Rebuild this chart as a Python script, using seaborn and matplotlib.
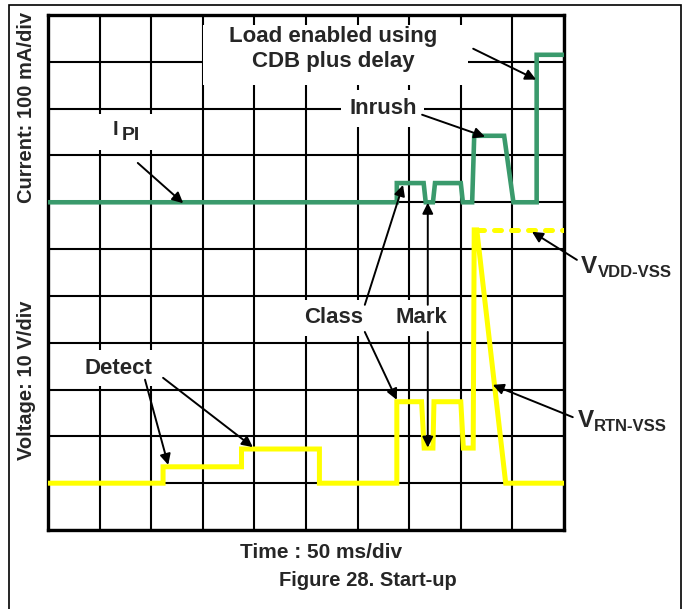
import numpy as np
import pandas as pd
import matplotlib.pyplot as plt
import matplotlib.transforms as mtransforms
from matplotlib.patches import Rectangle
import seaborn as sns

# scope trace, x in divisions (50 ms/div), y in screen divisions
ipi_x = [0, 6.76, 6.76, 7.28, 7.32, 7.46, 7.50, 8.00, 8.04, 8.22, 8.26, 8.84, 9.02, 9.47, 9.47, 10.0]
ipi_y = [7.0, 7.0, 7.41, 7.41, 7.0, 7.0, 7.41, 7.41, 7.0, 7.0, 8.42, 8.42, 7.0, 7.0, 10.15, 10.15]

rtn_x = [0, 2.23, 2.23, 3.75, 3.75, 5.26, 5.26, 6.76, 6.76, 7.24, 7.29, 7.46, 7.48, 8.00, 8.05, 8.24, 8.26, 8.31, 8.87, 10.0]
rtn_y = [1.0, 1.0, 1.35, 1.35, 1.73, 1.73, 1.0, 1.0, 2.74, 2.74, 1.75, 1.75, 2.74, 2.74, 1.75, 1.75, 6.41, 6.41, 1.0, 1.0]

vdd_x = [8.31, 10.0]
vdd_y = [6.41, 6.41]

GREEN = '#3a9a6c'
YELLOW = '#ffff00'

sns.set_style('white')
plt.rcParams['font.family'] = ['Liberation Sans', 'DejaVu Sans']
plt.rcParams['font.weight'] = 'bold'

fig = plt.figure(figsize=(6.83, 6.09), dpi=100)
ax = fig.add_axes([48/683, 1-530/609, 516/683, 515/609])

ipi = pd.DataFrame({'t': ipi_x, 'v': ipi_y})
rtn = pd.DataFrame({'t': rtn_x, 'v': rtn_y})
vdd = pd.DataFrame({'t': vdd_x, 'v': vdd_y})

sns.lineplot(data=ipi, x='t', y='v', sort=False, estimator=None, color=GREEN, lw=3.3,
             solid_joinstyle='miter', ax=ax, zorder=3)
sns.lineplot(data=rtn, x='t', y='v', sort=False, estimator=None, color=YELLOW, lw=3.6,
             solid_joinstyle='miter', ax=ax, zorder=3)
sns.lineplot(data=vdd, x='t', y='v', sort=False, estimator=None, color=YELLOW, lw=3.6,
             ax=ax, zorder=3)
vline = ax.lines[-1]
vline.set_dashes((1.4, 2.0))
vline.set_dash_capstyle('round')

ax.set_xlim(0, 10)
ax.set_ylim(0, 11)
ax.set_xticks(range(11))
ax.set_yticks(range(12))
ax.set_axisbelow(True)
ax.grid(True, color='black', lw=1.5)
ax.tick_params(length=0, labelbottom=False, labelleft=False)
ax.set_xlabel('')
ax.set_ylabel('')
for s in ax.spines.values():
    s.set_linewidth(2.4)
    s.set_color('black')

# white patches behind the labels
ax.add_patch(Rectangle((3.0, 9.51), 5.14, 1.28, fc='white', ec='none', zorder=1))
ax.add_patch(Rectangle((0.95, 8.12), 1.1, 0.77, fc='white', ec='none', zorder=1))

box = dict(facecolor='white', edgecolor='none', boxstyle='square,pad=0.35')
ax.text(5.52, 10.27, 'Load enabled using\nCDB plus delay', ha='center', va='center',
        fontsize=16, linespacing=1.25, zorder=4)
ax.text(6.49, 9.0, 'Inrush', ha='center', va='center', fontsize=16, bbox=box, zorder=4)
ax.text(5.54, 4.53, 'Class', ha='center', va='center', fontsize=16, bbox=box, zorder=4)
ax.text(7.23, 4.53, 'Mark', ha='center', va='center', fontsize=16, bbox=box, zorder=4)
ax.text(1.36, 3.46, 'Detect', ha='center', va='center', fontsize=16, bbox=box, zorder=4)

# I_PI
ax.text(1.26, 8.43, 'I', ha='left', va='baseline', fontsize=14.5, zorder=4)
ax.text(1.26, 8.43, 'PI', ha='left', va='baseline', fontsize=14, zorder=4,
        transform=mtransforms.offset_copy(ax.transData, fig=fig, x=6.5, y=-3.6, units='points'))

# V labels
for vx, vy, sub in [(10.33, 5.49, 'VDD-VSS'), (10.27, 2.20, 'RTN-VSS')]:
    ax.text(vx, vy, 'V', ha='left', va='baseline', fontsize=17.5, clip_on=False)
    ax.text(vx, vy, sub, ha='left', va='baseline', fontsize=12, clip_on=False,
            transform=mtransforms.offset_copy(ax.transData, fig=fig, x=11.8, y=-3.0, units='points'))

arrow = dict(arrowstyle='-|>', color='black', lw=1.4, mutation_scale=16, shrinkA=0, shrinkB=0)
arrows = [
    ((2.62, 6.98), (1.74, 7.84)),   # IPI
    ((9.46, 9.62), (8.24, 10.28)),  # load enabled
    ((8.47, 8.40), (7.25, 8.87)),   # inrush
    ((6.88, 7.37), (6.14, 4.81)),   # class up
    ((6.76, 2.78), (6.14, 4.23)),   # class down
    ((7.36, 6.99), (7.36, 4.81)),   # mark up
    ((7.36, 1.76), (7.36, 4.23)),   # mark down
    ((2.33, 1.39), (1.88, 3.21)),   # detect 1
    ((3.97, 1.77), (2.23, 3.25)),   # detect 2
    ((9.38, 6.37), (10.25, 5.77)),  # vdd
    ((8.62, 3.10), (10.17, 2.41)),  # rtn
]
for head, tail in arrows:
    ax.annotate('', xy=head, xytext=tail, arrowprops=arrow, annotation_clip=False, zorder=5)

fig.text(27/683, 1-107/609, 'Current: 100 mA/div', rotation=90, ha='center', va='center', fontsize=14.5)
fig.text(27/683, 1-380/609, 'Voltage: 10 V/div', rotation=90, ha='center', va='center', fontsize=14.5)
fig.text(321/683, 1-552/609, 'Time : 50 ms/div', ha='center', va='center', fontsize=15)
fig.text(368/683, 1-580/609, 'Figure 28. Start-up', ha='center', va='center', fontsize=14.5)

# outer frame
fig.add_artist(Rectangle((9/683, -0.05), 672/683, 1.05 - 5/609, transform=fig.transFigure,
                         fill=False, ec='black', lw=1.2))

fig.savefig('out.png', dpi=100)
